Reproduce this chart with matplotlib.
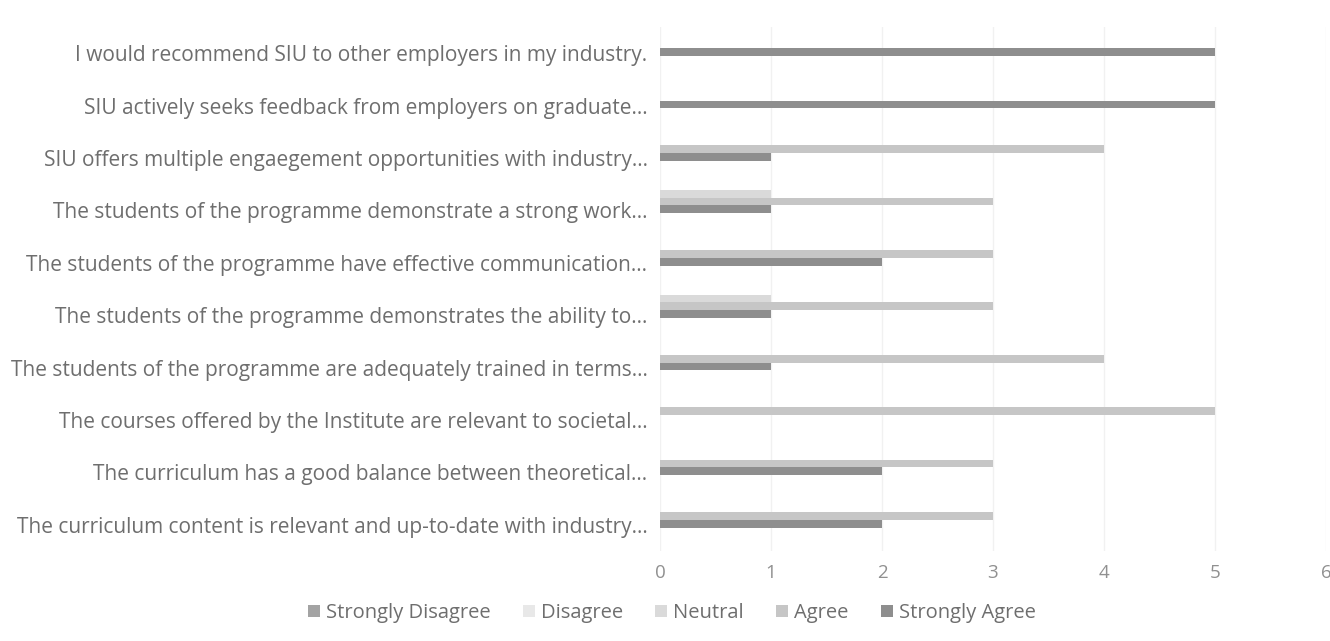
import matplotlib
matplotlib.use("Agg")
import matplotlib.pyplot as plt
import numpy as np

# Categories listed top to bottom as displayed
categories = [
    "I would recommend SIU to other employers in my industry.",
    "SIU actively seeks feedback from employers on graduate...",
    "SIU offers multiple engaegement opportunities with industry...",
    "The students of the programme demonstrate a strong work...",
    "The students of the programme have effective communication...",
    "The students of the programme demonstrates the ability to...",
    "The students of the programme are adequately trained in terms...",
    "The courses offered by the Institute are relevant to societal...",
    "The curriculum has a good balance between theoretical...",
    "The curriculum content is relevant and up-to-date with industry...",
]
series_names = ["Strongly Disagree", "Disagree", "Neutral", "Agree", "Strongly Agree"]
strongly_disagree = [0, 0, 0, 0, 0, 0, 0, 0, 0, 0]
disagree = [0, 0, 0, 0, 0, 0, 0, 0, 0, 0]
neutral = [0, 0, 0, 1, 0, 1, 0, 0, 0, 0]
agree = [0, 0, 4, 3, 3, 3, 4, 5, 3, 3]
strongly_agree = [5, 5, 1, 1, 2, 1, 1, 0, 2, 2]
series_values = [strongly_disagree, disagree, neutral, agree, strongly_agree]
colors = ["#a3a3a3", "#e8e8e8", "#dadada", "#c6c6c6", "#8e8e8e"]
x_ticks = [0, 1, 2, 3, 4, 5, 6]

plt.rcParams['font.family'] = ['Open Sans', 'DejaVu Sans']

fig = plt.figure(figsize=(13.3, 6.41), dpi=100)
ax = fig.add_axes([660 / 1330, 1 - 551 / 641, (1326 - 660) / 1330, (551 - 27) / 641])

n = len(categories)
y = np.arange(n)
t = 0.15
offsets = [-4 * t, -3 * t, -2 * t, -1 * t, 0.0]
for vals, name, col, off in zip(series_values, series_names, colors, offsets):
    ax.barh(y + off - 0.02, vals, height=t, color=col, label=name, zorder=3)

ax.set_ylim(n - 0.5, -0.5)
ax.set_xlim(0, 6)
ax.set_xticks(x_ticks)
ax.set_xticklabels([str(v) for v in x_ticks])
ax.set_yticks(y)
ax.set_yticklabels(categories)
ax.tick_params(axis='y', length=0, pad=9, labelsize=15, labelcolor="#6e6e6e")
ax.tick_params(axis='x', length=0, pad=9, labelsize=13.5, labelcolor="#909090")
ax.grid(axis='x', color="#f1f1f1", linewidth=1, zorder=0)
for s in ax.spines.values():
    s.set_visible(False)

handles, labels = ax.get_legend_handles_labels()
fig.legend(handles, labels, loc='center', bbox_to_anchor=(0.505, 1 - 613 / 641), ncol=5,
           frameon=False, fontsize=14.5, labelcolor="#6e6e6e", handlelength=0.6,
           handleheight=0.6, handletextpad=0.3, columnspacing=1.6)

fig.savefig("out.png", dpi=100, facecolor="white")
